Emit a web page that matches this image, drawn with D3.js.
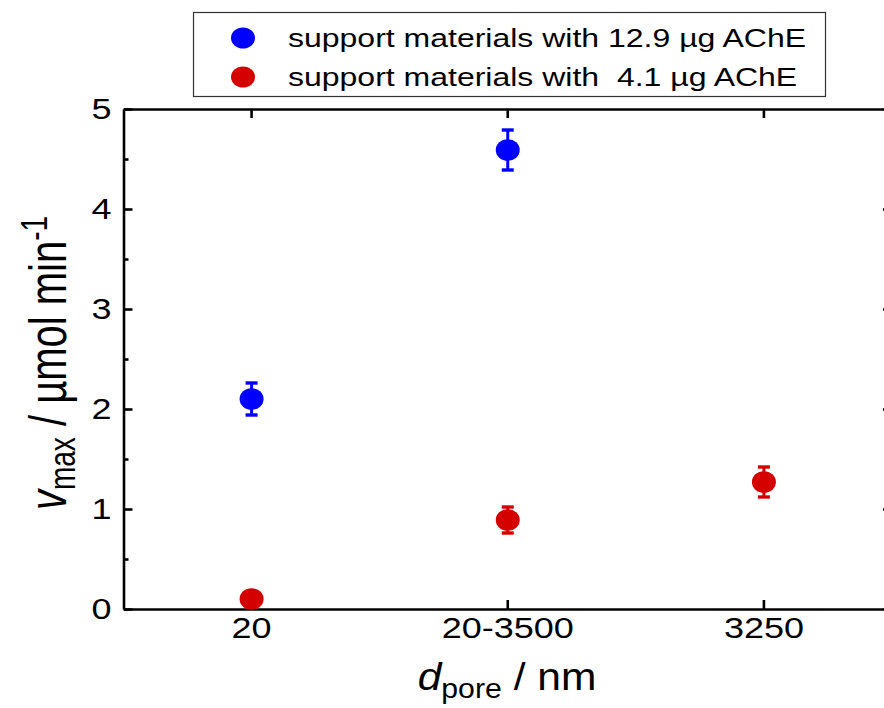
<!DOCTYPE html>
<html>
<head>
<meta charset="utf-8">
<script src="https://cdn.jsdelivr.net/npm/d3@7/dist/d3.min.js"></script>
<style>
  html, body { margin: 0; padding: 0; background: #fff; }
  svg { display: block; }
  text { font-family: "Liberation Sans", Arial, sans-serif; fill: #000; }
</style>
</head>
<body>
<svg id="chart" width="884" height="708"></svg>
<script>
// ---- data ----
const categories = ["20", "20-3500", "3250"];
const blueCategories = ["20", "20-3500"];
const blueValues = [2.10, 4.59];
const blueErrors = [0.16, 0.20];
const redCategories = ["20", "20-3500", "3250"];
const redValues = [0.10, 0.89, 1.27];
const redErrors = [0.05, 0.13, 0.15];
const yTicks = [0, 1, 2, 3, 4, 5];
const yMinorTicks = [0.5, 1.5, 2.5, 3.5, 4.5];
const seriesNames = ["support materials with 12.9 \u00b5g AChE", "support materials with  4.1 \u00b5g AChE"];
const seriesColors = ["#0000ff", "#d40000"];

// ---- layout ----
const W = 884, H = 708;
const mLeft = 123.5, mRight = 892, mTop = 109, mBottom = 609;
const svg = d3.select("#chart");

const x = d3.scaleBand().domain(categories).range([mLeft, mRight]).paddingInner(0).paddingOuter(0);
const xc = c => x(c) + x.bandwidth() / 2;
const y = d3.scaleLinear().domain([0, 5]).range([mBottom, mTop]);

const tickSX = 1.2;
const axisW = 2.6;

// left axis
const gL = svg.append("g").attr("transform", `translate(${mLeft},0)`)
  .call(d3.axisLeft(y).tickValues(yTicks).tickSizeInner(-9).tickSizeOuter(0).tickPadding(12).tickFormat(d3.format("d")));
gL.selectAll(".tick text").attr("x", null).attr("transform", `translate(-12,0) scale(${tickSX},1)`);
const gLm = svg.append("g").attr("transform", `translate(${mLeft},0)`)
  .call(d3.axisLeft(y).tickValues(yMinorTicks).tickSizeInner(-5).tickSizeOuter(0).tickFormat(""));
gLm.select(".domain").remove();

// right axis
const gR = svg.append("g").attr("transform", `translate(${mRight},0)`)
  .call(d3.axisRight(y).tickValues(yTicks).tickSizeInner(-9).tickSizeOuter(0).tickFormat(""));
const gRm = svg.append("g").attr("transform", `translate(${mRight},0)`)
  .call(d3.axisRight(y).tickValues(yMinorTicks).tickSizeInner(-5).tickSizeOuter(0).tickFormat(""));
gRm.select(".domain").remove();

// bottom axis
const gB = svg.append("g").attr("transform", `translate(0,${mBottom})`)
  .call(d3.axisBottom(x).tickSizeInner(-9).tickSizeOuter(0).tickPadding(8));
gB.selectAll(".tick text").attr("y", null).attr("transform", `translate(0,8) scale(${tickSX},1)`);

// top axis
const gT = svg.append("g").attr("transform", `translate(0,${mTop})`)
  .call(d3.axisTop(x).tickSizeInner(-9).tickSizeOuter(0).tickFormat(""));

svg.selectAll(".domain").attr("stroke", "#000").attr("stroke-width", axisW);
svg.selectAll(".tick line").attr("stroke", "#000").attr("stroke-width", axisW);
svg.selectAll(".tick text").attr("font-size", 30).attr("font-family", "Liberation Sans, Arial, sans-serif").attr("fill", "#000");

// ---- series ----
function drawSeries(cats, vals, errs, color) {
  const g = svg.append("g");
  const data = cats.map((c, i) => ({ c, v: vals[i], e: errs[i] }));
  const eb = g.selectAll("g.err").data(data).join("g").attr("class", "err")
    .attr("stroke", color).attr("stroke-width", 3);
  eb.append("line").attr("x1", d => xc(d.c)).attr("x2", d => xc(d.c))
    .attr("y1", d => y(d.v + d.e)).attr("y2", d => y(d.v - d.e));
  eb.append("line").attr("x1", d => xc(d.c) - 6).attr("x2", d => xc(d.c) + 6)
    .attr("y1", d => y(d.v + d.e)).attr("y2", d => y(d.v + d.e)).attr("stroke-width", 3.4);
  eb.append("line").attr("x1", d => xc(d.c) - 6).attr("x2", d => xc(d.c) + 6)
    .attr("y1", d => y(d.v - d.e)).attr("y2", d => y(d.v - d.e)).attr("stroke-width", 3.4);
  g.selectAll("ellipse").data(data).join("ellipse")
    .attr("cx", d => xc(d.c)).attr("cy", d => y(d.v))
    .attr("rx", 12).attr("ry", 10.8).attr("fill", color);
}
drawSeries(blueCategories, blueValues, blueErrors, seriesColors[0]);
drawSeries(redCategories, redValues, redErrors, seriesColors[1]);

// ---- legend ----
const lg = svg.append("g");
lg.append("rect").attr("x", 193.5).attr("y", 12.5).attr("width", 632).attr("height", 84)
  .attr("fill", "#fff").attr("stroke", "#333").attr("stroke-width", 1.2);
const legendRows = [38, 77];
seriesNames.forEach((name, i) => {
  lg.append("ellipse").attr("cx", 243).attr("cy", legendRows[i]).attr("rx", 12).attr("ry", 10.5).attr("fill", seriesColors[i]);
  lg.append("text").attr("transform", `translate(288,${legendRows[i] + 8.7}) scale(1.25,1)`)
    .attr("font-size", 25.6).style("white-space", "pre").text(name);
});

// ---- axis titles ----
const xt = svg.append("text").attr("transform", `translate(507,690) scale(1.12,1)`)
  .attr("text-anchor", "middle").attr("font-size", 38);
xt.append("tspan").attr("font-style", "italic").text("d");
xt.append("tspan").attr("font-size", 27).attr("dy", 8).text("pore");
xt.append("tspan").attr("dy", -8).text(" / nm");

const yt = svg.append("text").attr("transform", `translate(66,363) rotate(-90) scale(1,1.3)`)
  .attr("text-anchor", "middle").attr("font-size", 40);
yt.append("tspan").attr("font-style", "italic").text("v");
yt.append("tspan").attr("font-size", 28).attr("dy", 7).text("max");
yt.append("tspan").attr("dy", -7).text(" / \u00b5mol min");
yt.append("tspan").attr("font-size", 28).attr("dy", -15).text("-1");
</script>
</body>
</html>
